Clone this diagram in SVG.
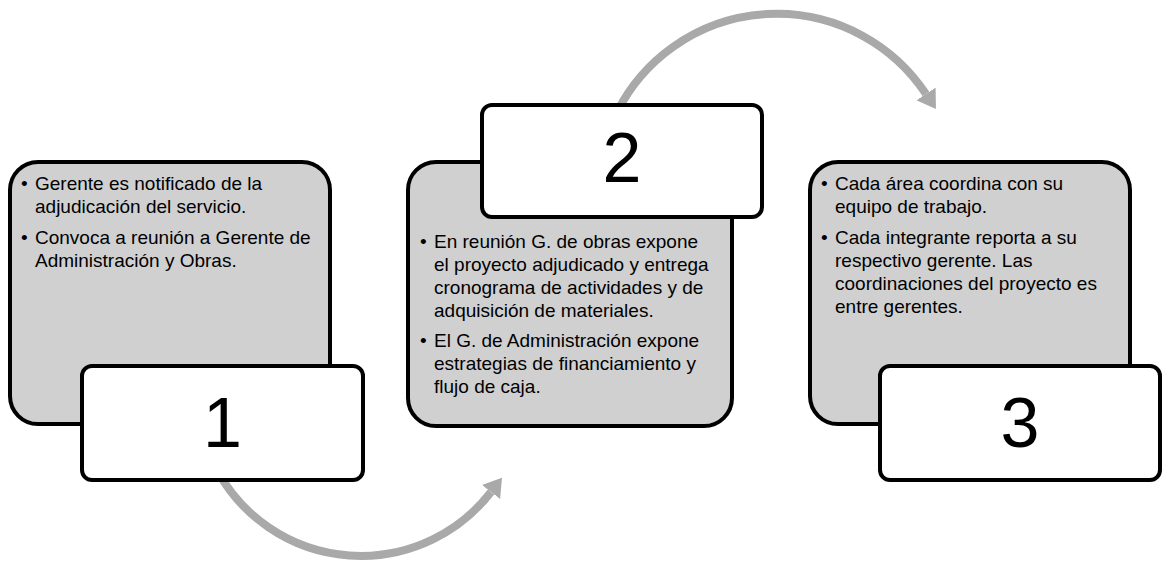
<svg xmlns="http://www.w3.org/2000/svg" width="1172" height="563" viewBox="0 0 1172 563">
<style>
.panel{fill:#d0d0d0;stroke:#000;stroke-width:4}
.tag{fill:#fff;stroke:#000;stroke-width:4}
.txt{font-family:"Liberation Sans",Arial,sans-serif;font-size:19px;fill:#000}
.num{font-family:"Liberation Sans",Arial,sans-serif;font-size:70px;fill:#000;text-anchor:middle}
.arc{fill:none;stroke:#a9a9a9;stroke-width:8}
</style>
<defs>
<marker id="ah" markerUnits="userSpaceOnUse" markerWidth="24" markerHeight="26" refX="0" refY="12" orient="auto" viewBox="0 0 24 26">
<polygon points="0,0.5 18,12 0,23.5" fill="#a9a9a9"/>
</marker>
</defs>
<rect width="1172" height="563" fill="#fff"/>
<g id="connectors">
<path class="arc" d="M 218 472 A 164 164 0 0 0 491 492" marker-end="url(#ah)"/>
<path class="arc" d="M 617 112 A 179 179 0 0 1 926 94" marker-end="url(#ah)"/>
</g>
<g id="node1">
<rect class="panel" x="10" y="162" width="320" height="262" rx="28"/>
<text class="txt"><tspan x="21" y="190">•</tspan><tspan x="35" y="190">Gerente es notificado de la</tspan><tspan x="35" y="213">adjudicación del servicio.</tspan><tspan x="21" y="244">•</tspan><tspan x="35" y="244">Convoca a reunión a Gerente de</tspan><tspan x="35" y="267">Administración y Obras.</tspan></text>
<rect class="tag" x="82" y="366" width="281" height="114" rx="10"/>
<text class="num" x="222.5" y="447">1</text>
</g>
<g id="node2">
<rect class="panel" x="408" y="162" width="324" height="264" rx="28"/>
<text class="txt"><tspan x="420" y="248">•</tspan><tspan x="434" y="248">En reunión G. de obras expone</tspan><tspan x="434" y="271">el proyecto adjudicado y entrega</tspan><tspan x="434" y="294">cronograma de actividades y de</tspan><tspan x="434" y="317">adquisición de materiales.</tspan><tspan x="420" y="347">•</tspan><tspan x="434" y="347">El G. de Administración expone</tspan><tspan x="434" y="370">estrategias de financiamiento y</tspan><tspan x="434" y="393">flujo de caja.</tspan></text>
<rect class="tag" x="482" y="105" width="280" height="112" rx="10"/>
<text class="num" x="622" y="182">2</text>
</g>
<g id="node3">
<rect class="panel" x="810" y="162" width="320" height="262" rx="28"/>
<text class="txt"><tspan x="821" y="190">•</tspan><tspan x="835" y="190">Cada área coordina con su</tspan><tspan x="835" y="213">equipo de trabajo.</tspan><tspan x="821" y="244">•</tspan><tspan x="835" y="244">Cada integrante reporta a su</tspan><tspan x="835" y="267">respectivo gerente. Las</tspan><tspan x="835" y="290">coordinaciones del proyecto es</tspan><tspan x="835" y="313">entre gerentes.</tspan></text>
<rect class="tag" x="880" y="366" width="280" height="114" rx="10"/>
<text class="num" x="1020" y="447">3</text>
</g>
</svg>
